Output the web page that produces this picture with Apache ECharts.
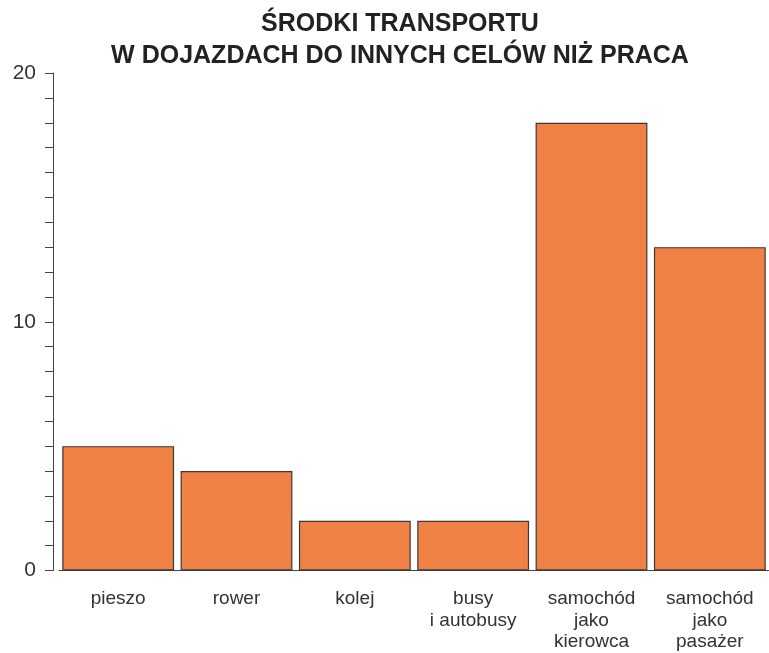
<!DOCTYPE html>
<html>
<head>
<meta charset="utf-8">
<script src="https://cdn.jsdelivr.net/npm/echarts@6/dist/echarts.min.js"></script>
<style>
  html, body { margin: 0; padding: 0; background: #fff; }
  #chart { width: 769px; height: 653px; }
</style>
</head>
<body>
<div id="chart"></div>
<script>
const categories = ['pieszo', 'rower', 'kolej', 'busy\ni autobusy', 'samochód\njako\nkierowca', 'samochód\njako\npasażer']
const values = [5, 4, 2, 2, 18, 13]
const yLabels = [0, 10, 20]

const chart = echarts.init(document.getElementById('chart'))

const option = {
  animation: false,
  title: {
    text: 'ŚRODKI TRANSPORTU\nW DOJAZDACH DO INNYCH CELÓW NIŻ PRACA',
    left: 395,
    top: 3,
    textAlign: 'center',
    textStyle: {
      fontFamily: 'Liberation Sans',
      fontWeight: 'bold',
      fontSize: 25,
      lineHeight: 32,
      color: '#222'
    }
  },
  grid: {
    left: 59,
    right: 0,
    top: 73,
    bottom: 80
  },
  xAxis: {
    type: 'category',
    data: categories,
    axisLine: { lineStyle: { color: '#444', width: 1 } },
    axisTick: { show: false },
    axisLabel: {
      margin: 18,
      interval: 0,
      fontFamily: 'Liberation Sans',
      fontSize: 19,
      lineHeight: 21.5,
      color: '#333'
    }
  },
  yAxis: {
    type: 'value',
    min: 0,
    max: 20,
    interval: 1,
    offset: 6,
    axisLine: { show: true, lineStyle: { color: '#444', width: 1 } },
    axisTick: { show: true, length: 8, lineStyle: { color: '#444' } },
    splitLine: { show: false },
    axisLabel: {
      margin: 17,
      fontFamily: 'Liberation Sans',
      fontSize: 21,
      color: '#333',
      formatter: v => yLabels.includes(v) ? String(v) : ''
    }
  },
  series: [
    {
      type: 'bar',
      data: values,
      barCategoryGap: '5.5%',
      itemStyle: {
        color: '#F08144',
        borderColor: '#3a3a3a',
        borderWidth: 1.2
      }
    }
  ]
}
chart.setOption(option)
</script>
</body>
</html>
